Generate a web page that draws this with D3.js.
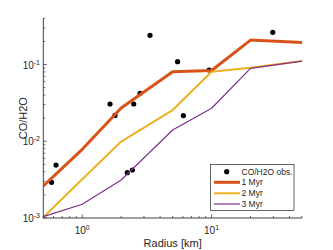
<!DOCTYPE html>
<html>
<head>
<meta charset="utf-8">
<script src="https://cdn.jsdelivr.net/npm/d3@7"></script>
<style>
  body { margin: 0; background: #fff; }
  text { font-family: "Liberation Sans", Arial, sans-serif; fill: #262626; }
</style>
</head>
<body>
<svg id="chart" width="333" height="250"></svg>
<script>
// model radii (km)
var radii = [0.5, 1, 2, 5, 10, 20, 50];
// CO/H2O ratio for each age
var myr1 = [0.00261, 0.00785, 0.0271, 0.0806, 0.0835, 0.208, 0.194];
var myr2 = [0.00102, 0.0032, 0.0099, 0.0255, 0.0806, 0.0908, 0.111];
var myr3 = [0.00104, 0.00151, 0.00313, 0.014, 0.0269, 0.0892, 0.111];
// observed comets
var obsRadius = [0.579, 0.627, 1.64, 1.79, 2.23, 2.44, 2.50, 2.80, 3.34, 5.46, 6.05, 9.56, 29.7];
var obsRatio = [0.00292, 0.0049, 0.0306, 0.0217, 0.00389, 0.00422, 0.0306, 0.0422, 0.24, 0.1088, 0.0216, 0.0848, 0.263];

var seriesNames = ['1 Myr', '2 Myr', '3 Myr'];
var seriesColors = ['#D95319', '#EDB120', '#7E2F8E'];
var seriesWidths = [3, 2, 1.2];
var seriesData = [myr1, myr2, myr3];

// plot box (top is taken by window.top, so no plain names)
var plotLeft = 43.3, plotRight = 302, plotTop = 18.3, plotBottom = 218;

var svg = d3.select('#chart');

var x = d3.scaleLog().domain([0.5, 50]).range([plotLeft, plotRight]);
var y = d3.scaleLog().domain([0.001, 0.4]).range([plotBottom, plotTop]);

svg.append('clipPath').attr('id', 'clip')
  .append('rect')
  .attr('x', plotLeft).attr('y', plotTop)
  .attr('width', plotRight - plotLeft).attr('height', plotBottom - plotTop);

// observations first, lines on top
svg.append('g').selectAll('circle')
  .data(obsRadius)
  .enter().append('circle')
  .attr('cx', function (d) { return x(d); })
  .attr('cy', function (d, i) { return y(obsRatio[i]); })
  .attr('r', 2.6)
  .attr('fill', '#000');

var line = d3.line()
  .x(function (d, i) { return x(radii[i]); })
  .y(function (d) { return y(d); });

for (var s = 0; s < seriesData.length; s++) {
  svg.append('path')
    .datum(seriesData[s])
    .attr('clip-path', 'url(#clip)')
    .attr('d', line)
    .attr('fill', 'none')
    .attr('stroke', seriesColors[s])
    .attr('stroke-width', seriesWidths[s])
    .attr('stroke-linejoin', 'round');
}

// axes lines
var axisColor = '#404040';
svg.append('line')
  .attr('x1', plotLeft).attr('x2', plotLeft).attr('y1', plotTop).attr('y2', plotBottom)
  .attr('stroke', axisColor).attr('stroke-width', 1);
svg.append('line')
  .attr('x1', plotLeft).attr('x2', plotRight).attr('y1', plotBottom).attr('y2', plotBottom)
  .attr('stroke', axisColor).attr('stroke-width', 1);

function isDecade (d) {
  var l = Math.log10(d);
  return Math.abs(l - Math.round(l)) < 1e-9;
}

// ticks (inward, MATLAB style)
var xTicks = x.ticks();
svg.append('g').selectAll('line')
  .data(xTicks)
  .enter().append('line')
  .attr('x1', function (d) { return x(d); })
  .attr('x2', function (d) { return x(d); })
  .attr('y1', plotBottom)
  .attr('y2', function (d) { return isDecade(d) ? plotBottom - 3.5 : plotBottom - 2; })
  .attr('stroke', axisColor).attr('stroke-width', 0.8);

var yTicks = y.ticks();
svg.append('g').selectAll('line')
  .data(yTicks)
  .enter().append('line')
  .attr('y1', function (d) { return y(d); })
  .attr('y2', function (d) { return y(d); })
  .attr('x1', plotLeft)
  .attr('x2', function (d) { return isDecade(d) ? plotLeft + 3.5 : plotLeft + 2; })
  .attr('stroke', axisColor).attr('stroke-width', 0.8);

// tick labels with superscripts
var xMajor = [1, 10];
xMajor.forEach(function (v) {
  var t = svg.append('text')
    .attr('x', x(v)).attr('y', 234)
    .attr('text-anchor', 'middle')
    .style('font-size', '10px');
  t.append('tspan').text('10');
  t.append('tspan').attr('dy', -4).style('font-size', '7px').text(String(Math.round(Math.log10(v))));
});

var yMajor = [0.001, 0.01, 0.1];
yMajor.forEach(function (v) {
  var t = svg.append('text')
    .attr('x', 40).attr('y', y(v) + 4)
    .attr('text-anchor', 'end')
    .style('font-size', '10px');
  t.append('tspan').text('10');
  t.append('tspan').attr('dy', -4).style('font-size', '7px').text('-' + Math.round(-Math.log10(v)));
});

// axis titles
svg.append('text')
  .attr('x', (plotLeft + plotRight) / 2).attr('y', 247)
  .attr('text-anchor', 'middle')
  .style('font-size', '11px')
  .text('Radius [km]');

svg.append('text')
  .attr('transform', 'translate(26.5,' + ((plotTop + plotBottom) / 2) + ') rotate(-90)')
  .attr('text-anchor', 'middle')
  .style('font-size', '11px')
  .text('CO/H2O');

// legend
var lg = svg.append('g');
lg.append('rect')
  .attr('x', 210.5).attr('y', 164.5)
  .attr('width', 83.5).attr('height', 46)
  .attr('fill', '#fff').attr('stroke', axisColor).attr('stroke-width', 0.8);

var legendRows = [171.7, 182.3, 193.3, 204];
lg.append('circle')
  .attr('cx', 226.7).attr('cy', legendRows[0]).attr('r', 2.6).attr('fill', '#000');
lg.append('text')
  .attr('x', 241.5).attr('y', legendRows[0] + 3)
  .style('font-size', '8.5px')
  .text('CO/H2O obs.');

for (var k = 0; k < seriesNames.length; k++) {
  lg.append('line')
    .attr('x1', 214).attr('x2', 240)
    .attr('y1', legendRows[k + 1]).attr('y2', legendRows[k + 1])
    .attr('stroke', seriesColors[k]).attr('stroke-width', seriesWidths[k]);
  lg.append('text')
    .attr('x', 241.5).attr('y', legendRows[k + 1] + 3)
    .style('font-size', '8.5px')
    .text(seriesNames[k]);
}
</script>
</body>
</html>
